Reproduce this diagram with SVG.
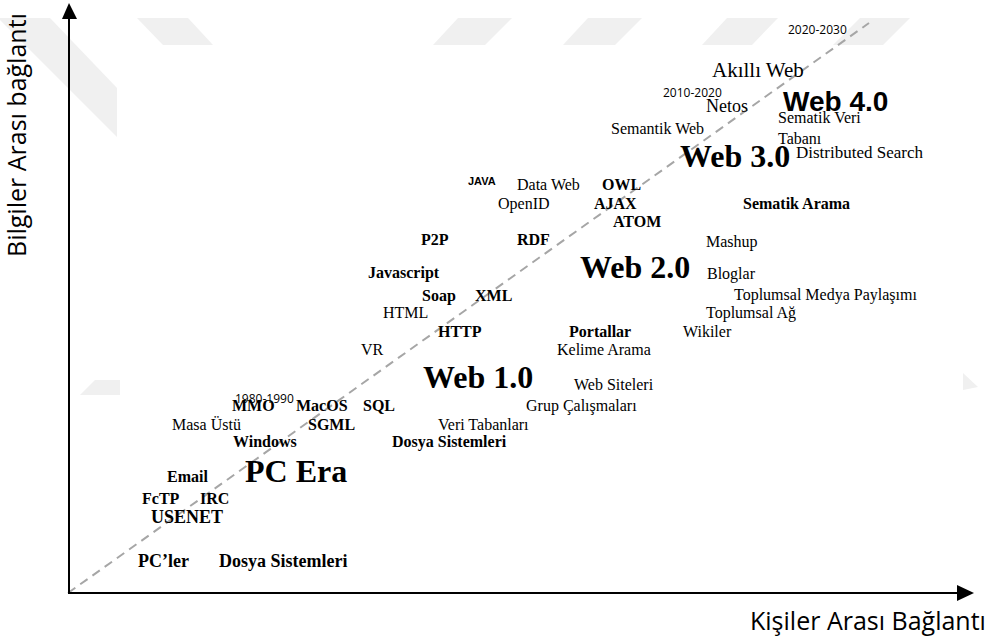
<svg xmlns="http://www.w3.org/2000/svg" width="994" height="643" viewBox="0 0 994 643">
<style>
.r{font-family:"Liberation Serif","Times New Roman",serif;font-size:16px;fill:#000}
.b{font-family:"Liberation Serif","Times New Roman",serif;font-size:16px;font-weight:bold;fill:#000}
.big{font-family:"Liberation Serif","Times New Roman",serif;font-size:32px;font-weight:bold;fill:#000}
.s{font-family:"Open Sans","Liberation Sans",sans-serif;font-size:12px;fill:#000}
.ax{font-family:"Open Sans","Noto Sans",sans-serif;font-size:25px;fill:#000}
.wm{fill:#f0f0f0}
</style>
<rect width="994" height="643" fill="#fff"/>
<g id="watermark">
<polygon class="wm" points="0,18 50,18 117,88 117,137 0,20"/>
<polygon class="wm" points="137,18 188,18 213,45 163,45"/>
<polygon class="wm" points="458,18 512,18 485,45 433,45"/>
<polygon class="wm" points="588,18 642,18 615,45 563,45"/>
<polygon class="wm" points="727,18 778,18 752,45 702,45"/>
<polygon class="wm" points="860,18 910,18 883,45 833,45"/>
<polygon class="wm" points="963,373 978,387 963,390"/>
<polygon class="wm" points="95,380 120,380 120,395 80,395"/>
</g>
<g id="connectors">
<line x1="68" y1="593" x2="869" y2="23" stroke="#a6a6a6" stroke-width="2" stroke-dasharray="9 6"/>
<line x1="69" y1="594" x2="69" y2="18" stroke="#000" stroke-width="2"/>
<polygon points="69,3 62,19 77,19" fill="#000"/>
<line x1="68" y1="593" x2="958" y2="593" stroke="#000" stroke-width="2"/>
<polygon points="974,593 957,585 957,601" fill="#000"/>
</g>
<g id="axis-y"><text class="ax" transform="translate(26,257) rotate(-90)">Bilgiler Arası bağlantı</text></g>
<g id="axis-x"><text class="ax" x="750" y="630">Kişiler Arası Bağlantı</text></g>
<g id="y2020"><text class="s" x="788" y="34">2020-2030</text></g>
<g id="akilli"><text class="r" x="712" y="77" style="font-size:21px">Akıllı Web</text></g>
<g id="y2010"><text class="s" x="663" y="97">2010-2020</text></g>
<g id="netos"><text class="r" x="706" y="112" style="font-size:18px">Netos</text></g>
<g id="web4"><text x="783" y="111" style="font-family:'Liberation Sans',Arial,sans-serif;font-size:28px;font-weight:bold">Web 4.0</text></g>
<g id="sematikveri"><text class="r" x="778" y="123">Sematik Veri</text></g>
<g id="tabani"><text class="r" x="778" y="144">Tabanı</text></g>
<g id="semweb"><text class="r" x="611" y="134">Semantik Web</text></g>
<g id="web3"><text class="big" x="680" y="167">Web 3.0</text></g>
<g id="dsearch"><text class="r" x="796" y="158" style="font-size:17px">Distributed Search</text></g>
<g id="java"><text x="468" y="185" style="font-family:'Liberation Sans',Arial,sans-serif;font-size:11px;font-weight:bold">JAVA</text></g>
<g id="dataweb"><text class="r" x="517" y="190">Data Web</text></g>
<g id="owl"><text class="b" x="602" y="190">OWL</text></g>
<g id="openid"><text class="r" x="498" y="209">OpenID</text></g>
<g id="ajax"><text class="b" x="594" y="209">AJAX</text></g>
<g id="semarama"><text class="b" x="743" y="209">Sematik Arama</text></g>
<g id="atom"><text class="b" x="613" y="227">ATOM</text></g>
<g id="p2p"><text class="b" x="421" y="245">P2P</text></g>
<g id="rdf"><text class="b" x="517" y="245">RDF</text></g>
<g id="mashup"><text class="r" x="706" y="247">Mashup</text></g>
<g id="web2"><text class="big" x="580" y="278">Web 2.0</text></g>
<g id="bloglar"><text class="r" x="707" y="279">Bloglar</text></g>
<g id="javascript"><text class="b" x="368" y="278">Javascript</text></g>
<g id="soap"><text class="b" x="422" y="301">Soap</text></g>
<g id="xml"><text class="b" x="475" y="301">XML</text></g>
<g id="tmp"><text class="r" x="734" y="300">Toplumsal Medya Paylaşımı</text></g>
<g id="html"><text class="r" x="383" y="318">HTML</text></g>
<g id="tag"><text class="r" x="706" y="318">Toplumsal Ağ</text></g>
<g id="http"><text class="b" x="438" y="337">HTTP</text></g>
<g id="portallar"><text class="b" x="569" y="337">Portallar</text></g>
<g id="wikiler"><text class="r" x="683" y="337">Wikiler</text></g>
<g id="vr"><text class="r" x="361" y="355">VR</text></g>
<g id="kelime"><text class="r" x="557" y="355">Kelime Arama</text></g>
<g id="web1"><text class="big" x="423" y="388">Web 1.0</text></g>
<g id="siteler"><text class="r" x="574" y="390">Web Siteleri</text></g>
<g id="grup"><text class="r" x="526" y="411">Grup Çalışmaları</text></g>
<g id="y1980"><text class="s" x="235" y="403">1980-1990</text></g>
<g id="mmo"><text class="b" x="232" y="411">MMO</text></g>
<g id="macos"><text class="b" x="296" y="411">MacOS</text></g>
<g id="sql"><text class="b" x="363" y="411">SQL</text></g>
<g id="masa"><text class="r" x="172" y="430">Masa Üstü</text></g>
<g id="sgml"><text class="b" x="308" y="430">SGML</text></g>
<g id="veri"><text class="r" x="438" y="430">Veri Tabanları</text></g>
<g id="windows"><text class="b" x="233" y="447">Windows</text></g>
<g id="dosya1"><text class="b" x="392" y="447">Dosya Sistemleri</text></g>
<g id="pcera"><text class="big" x="245" y="482">PC Era</text></g>
<g id="email"><text class="b" x="167" y="482">Email</text></g>
<g id="fctp"><text class="b" x="142" y="504">FcTP</text></g>
<g id="irc"><text class="b" x="200" y="504">IRC</text></g>
<g id="usenet"><text class="b" x="151" y="523" style="font-size:18px">USENET</text></g>
<g id="pcler"><text class="b" x="138" y="567" style="font-size:18px">PC’ler</text></g>
<g id="dosya2"><text class="b" x="219" y="567" style="font-size:18px">Dosya Sistemleri</text></g>
</svg>
